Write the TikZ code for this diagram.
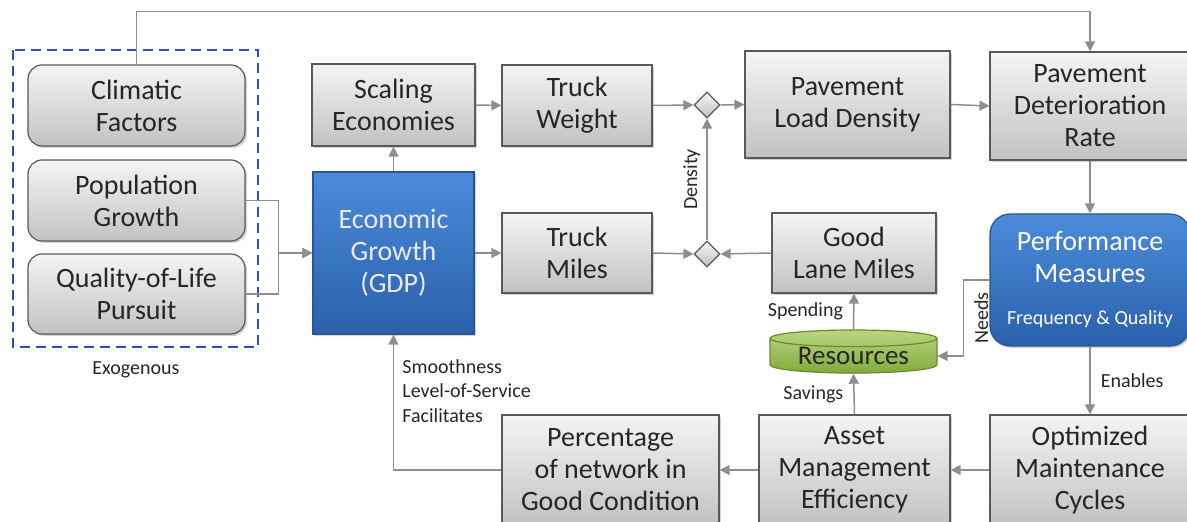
\documentclass[tikz,border=0pt]{standalone}
\usepackage{fontspec}
\setmainfont{Carlito}
\usetikzlibrary{arrows.meta,shapes.geometric,shadows}
\definecolor{boxline}{HTML}{595959}
\definecolor{boxtop}{HTML}{F5F5F5}
\definecolor{boxbot}{HTML}{C2C2C2}
\definecolor{linkgray}{HTML}{8E8E8E}
\definecolor{bluetop}{HTML}{4B8BD9}
\definecolor{bluebot}{HTML}{2A60AC}
\definecolor{blueline}{HTML}{2A5495}
\definecolor{exoblue}{HTML}{2E4DC0}
\definecolor{restop}{HTML}{B9D681}
\definecolor{resbot}{HTML}{83AA3C}
\definecolor{resline}{HTML}{6A8A2C}
\definecolor{inktext}{HTML}{262626}
\begin{document}
\begin{tikzpicture}[x=0.5pt,y=-0.5pt,
	factor/.style={draw=boxline,line width=0.6pt,top color=boxtop,bottom color=boxbot,text=inktext,font=\fontsize{14}{16}\selectfont,align=center,inner sep=0pt,drop shadow={shadow xshift=1pt,shadow yshift=-1pt,opacity=0.35}},
	exo/.style={factor,rounded corners=7pt},
	driver/.style={factor,draw=blueline,top color=bluetop,bottom color=bluebot,text=white},
	gate/.style={diamond,draw=boxline,line width=0.6pt,top color=boxtop,bottom color=boxbot,minimum size=13pt,inner sep=0pt},
	store/.style={cylinder,shape border rotate=90,aspect=0.15,draw=resline,line width=0.6pt,top color=restop,bottom color=resbot,text=inktext,font=\fontsize{13.5}{16}\selectfont,minimum width=83.5pt,minimum height=21pt,inner sep=0pt},
	link/.style={draw=linkgray,line width=0.75pt,-{Triangle[length=5pt,width=5pt]}},
	tag/.style={text=inktext,font=\fontsize{10}{12.25}\selectfont,align=left,inner sep=0pt}]
	\useasboundingbox (0,0) rectangle (1187,522);
	\draw[exoblue,line width=1.25pt,dash pattern=on 5pt off 3pt] (13,50) rectangle (258,347);
	\node[exo,minimum width=108.5pt,minimum height=40.5pt] (climatic) at (136.5,105.5) {Climatic\\Factors};
	\node[exo,minimum width=108.5pt,minimum height=40.5pt] (population) at (136.5,200.5) {Population\\Growth};
	\node[exo,minimum width=108.5pt,minimum height=40pt] (quality) at (136.5,294) {Quality-of-Life\\Pursuit};
	\node[tag] (exogenous) at (136,370) {Exogenous};
	\node[factor,minimum width=81.5pt,minimum height=41pt] (scaling) at (393.5,105) {Scaling\\Economies};
	\node[factor,minimum width=75pt,minimum height=40.5pt] (truckweight) at (577,105.5) {Truck\\Weight};
	\node[gate] (dtop) at (707,105) {};
	\node[factor,minimum width=102.5pt,minimum height=53.5pt] (loaddensity) at (847.5,104.5) {Pavement\\Load Density};
	\node[factor,minimum width=100pt,minimum height=54pt] (deterioration) at (1090,106) {Pavement\\Deterioration\\Rate};
	\node[driver,minimum width=80.5pt,minimum height=81pt] (economic) at (393.5,253) {\textcolor{blue!8}{Economic}\\\textcolor{blue!8}{Growth}\\\textcolor{blue!8}{(GDP)}};
	\node[factor,minimum width=75pt,minimum height=40pt] (truckmiles) at (577,253) {Truck\\Miles};
	\node[gate] (dbot) at (707,254) {};
	\node[factor,minimum width=82pt,minimum height=40pt] (lanemiles) at (854,253) {Good\\Lane Miles};
	\node[driver,rounded corners=10pt,minimum width=100pt,minimum height=66pt] (performance) at (1090,280) {Performance\\Measures\\[5pt]{\fontsize{10}{12}\selectfont Frequency \& Quality}};
	\node[store] (resources) at (853.5,356) {Resources};
	\node[factor,minimum width=95.5pt,minimum height=55pt] (asset) at (854.5,470) {Asset\\Management\\Efficiency};
	\node[factor,minimum width=100pt,minimum height=55pt] (optimized) at (1090,470) {Optimized\\Maintenance\\Cycles};
	\node[factor,minimum width=108.5pt,minimum height=55pt] (percentage) at (610.5,470) {Percentage\\of network in\\Good Condition};
	\draw[link] (climatic.north) -- ++(0,-53) -| (deterioration.north);
	\draw[link] (population.east) -- ++(33,0) |- (economic.west);
	\draw[link] (quality.east) -- ++(33,0) |- (economic.west);
	\draw[link] (economic.north) -- (scaling.south);
	\draw[link] (scaling.east) -- (truckweight.west);
	\draw[link] (truckweight.east) -- (dtop.west);
	\draw[link] (dtop.east) -- (loaddensity.west);
	\draw[link] (loaddensity.east) -- (deterioration.west);
	\draw[link] (deterioration.south) -- (performance.north);
	\draw[link] (economic.east) -- (truckmiles.west);
	\draw[link] (truckmiles.east) -- (dbot.west);
	\draw[link] (lanemiles.west) -- (dbot.east);
	\draw[link] (dbot.north) -- (dtop.south) node[midway,tag,rotate=90,above=3pt] {Density};
	\draw[link] (performance.west) -- ++(-26,0) |- (resources.east) node[pos=0.25,tag,rotate=90,below=5pt] {Needs};
	\draw[link] (performance.south) -- (optimized.north) node[midway,tag,right=5pt] {Enables};
	\draw[link] (optimized.west) -- (asset.east);
	\draw[link] (asset.west) -- (percentage.east);
	\draw[link] (percentage.west) -| (economic.south);
	\draw[link] (asset.north) -- (resources.south) node[midway,tag,left=5pt] {Savings};
	\draw[link] (resources.north) -- (lanemiles.south) node[midway,tag,left=5pt] {Spending};
	\node[tag,anchor=north west] (facilitates) at (402,359) {Smoothness\\Level-of-Service\\Facilitates};
\end{tikzpicture}
\end{document}
